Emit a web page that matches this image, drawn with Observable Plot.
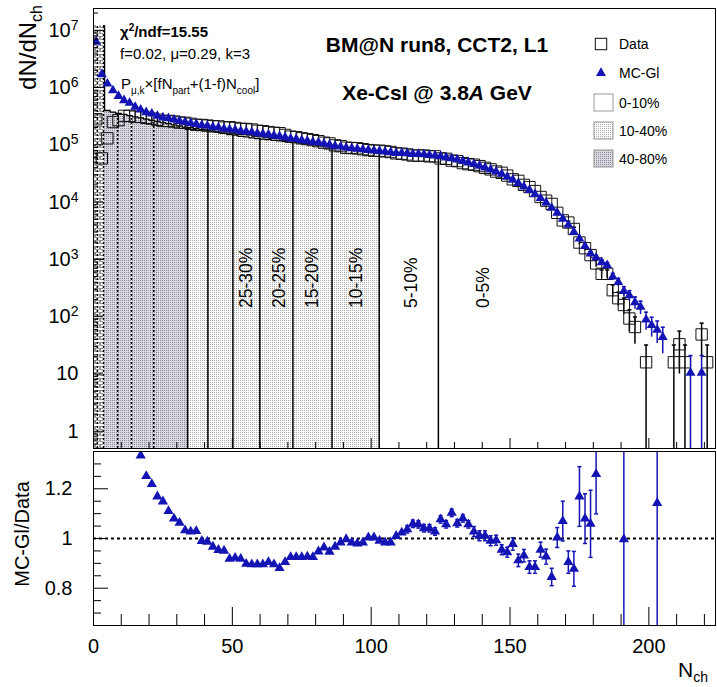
<!DOCTYPE html>
<html><head><meta charset="utf-8">
<script src="https://cdn.jsdelivr.net/npm/d3@7"></script>
<script src="https://cdn.jsdelivr.net/npm/@observablehq/plot@0.6"></script>
<style>
body{margin:0;background:#fff;}
#wrap{position:relative;width:717px;height:687px;overflow:hidden;background:#fff;}
#wrap svg{position:absolute;left:0;overflow:visible;}
</style></head><body><div id="wrap"></div>
<script>
// ---------------- data ----------------
const nch = [1,3,5,7,9,11,13,15,17,19,21,23,25,27,29,31,33,35,37,39,41,43,45,47,49,51,53,55,57,59,61,63,65,67,69,71,73,75,77,79,81,83,85,87,89,91,93,95,97,99,101,103,105,107,109,111,113,115,117,119,121,123,125,127,129,131,133,135,137,139,141,143,145,147,149,151,153,155,157,159,161,163,165,167,169,171,173,175,177,179,181,183,185,187,189,191,193,195,197,199,201,203,205,207,209,211,213,215,217,219,221,223];
const mcGl = [6.3e6,1.7e6,1.17e6,8.9e5,7.1e5,6.0e5,5.4e5,4.6e5,
 4.1e5,3.7e5,3.5e5,3.2e5,3.0e5,2.9e5,2.75e5,2.6e5,2.5e5,
 2.4e5,2.3e5,2.2e5,2.14e5,2.04e5,2.0e5,1.9e5,1.86e5,
 1.82e5,1.74e5,1.70e5,1.66e5,1.58e5,1.55e5,1.51e5,1.45e5,1.41e5,1.35e5,
 1.29e5,1.26e5,1.20e5,1.17e5,1.12e5,1.10e5,1.05e5,1.0e5,9.5e4,9.3e4,
 8.9e4,8.7e4,8.5e4,8.3e4,8.1e4,7.9e4,7.8e4,7.6e4,7.4e4,7.2e4,
 7.2e4,7.1e4,6.9e4,6.9e4,6.8e4,6.6e4,6.5e4,6.3e4,6.0e4,5.8e4,
 5.5e4,5.2e4,4.9e4,4.6e4,4.3e4,4.0e4,3.7e4,3.4e4,3.1e4,2.75e4,
 2.45e4,2.14e4,1.86e4,1.62e4,1.38e4,1.17e4,9.8e3,7.9e3,6.5e3,5.1e3,
 4.0e3,3.0e3,2.3e3,1.7e3,1.26e3,1.07e3,890,790,500,400,
 280,235,178,148,89,71,59,44,null,null,
 null,null,10.5,null,10.5,null,null];
const dataVals = [2.8e5,5.8e4,1.3e5,2.5e5,2.7e5,3.2e5,3.2e5,3.1e5,
 3.07e5,2.96e5,2.87e5,2.74e5,2.61e5,2.61e5,2.55e5,2.45e5,2.42e5,
 2.33e5,2.23e5,2.22e5,2.17e5,2.11e5,2.10e5,2.0e5,2.03e5,
 1.97e5,1.90e5,1.89e5,1.85e5,1.76e5,1.73e5,1.67e5,1.62e5,1.60e5,1.49e5,
 1.39e5,1.36e5,1.30e5,1.26e5,1.21e5,1.16e5,1.09e5,1.06e5,9.8e4,9.5e4,
 8.9e4,8.8e4,8.7e4,8.4e4,8.1e4,7.9e4,7.9e4,7.7e4,7.5e4,7.1e4,
 7.0e4,6.8e4,6.5e4,6.5e4,6.5e4,6.3e4,6.3e4,5.8e4,5.7e4,5.3e4,
 5.2e4,4.8e4,4.6e4,4.5e4,4.25e4,3.96e4,3.73e4,3.42e4,3.25e4,2.91e4,
 2.5e4,2.35e4,2.0e4,1.83e4,1.56e4,1.23e4,1.06e4,9.3e3,6.5e3,4.8e3,
 4.4e3,3.4e3,1.97e3,1.57e3,1.19e3,850,560,560,290,210,
 160,93,66,null,16,null,null,null,null,16,
 33,16,null,null,49,16,null];
const dataErrN = [171,173,175,177,179,181,183,185,187,189,191,193,195,199,209,211,213,219,221];
const dataErrV = [267,235,179,159,139,117,95,95,69,58,51,39,33,16,16,23,16,28,16];
const mcErrN = [171,173,175,177,179,181,183,185,187,189,191,193,195,197,199,201,203,205,215,219];
const mcErrV = [205,177,155,134,115,106,97,91,72,65,54,50,43,39,31,27,25,21.5,10.5,10.5];
// centrality-class histogram (fill top), bins N = 1..125
const classTop = [1.2e7,1.2e7,3.98e5,3.72e5,3.55e5,3.39e5,3.24e5,3.09e5,
 2.95e5,2.82e5,2.69e5,2.57e5,2.45e5,2.34e5,2.24e5,2.14e5,2.04e5,
 2.0e5,1.91e5,1.86e5,1.82e5,1.74e5,1.66e5,1.58e5,1.51e5,
 1.48e5,1.41e5,1.38e5,1.32e5,1.29e5,1.26e5,1.23e5,1.20e5,1.17e5,1.15e5,
 1.12e5,1.10e5,1.07e5,1.05e5,1.02e5,1.0e5,9.8e4,9.3e4,9.1e4,8.7e4,
 8.5e4,8.3e4,8.1e4,7.9e4,7.6e4,7.4e4,7.2e4,7.1e4,7.1e4,6.9e4,
 6.9e4,6.8e4,6.8e4,6.6e4,6.6e4,6.5e4,6.5e4,6.3e4];
const solidEdges = [33.9,41.2,50.2,59.9,71.8,85.9,102.9,124.2];
const dottedEdges = [1.4,3.6,8.7,13.7,21.7];
const centText = ["25-30%","20-25%","15-20%","10-15%","5-10%","0-5%"];
const centN = [55.1,67.0,79.0,94.8,114.4,140.5];
const classRanges = [[0,3.6],[3.6,33.9],[33.9,102.9]];
const classNames = ["80-100%","40-80%","10-40%"];
// ratio panel
const ratioN = [17,19,21,23,25,27,29,31,33,35,37,39,41,43,45,47,49,51,53,55,57,59,61,63,65,67,69,71,73,75,77,79,81,83,85,87,89,91,93,95,97,99,101,103,105,107,109,111,113,115,117,119,121,123,125,127,129,131,133,135,137,139,141,143,145,147,149,151,153,155,157,159,161,163,165,167,169,171,173,175,177,179,181,191,203];
const ratioV = [1.334,1.251,1.219,1.169,1.149,1.110,1.080,1.063,1.033,1.028,1.030,0.990,0.987,0.967,0.954,0.951,
 0.918,0.922,0.918,0.898,0.896,0.896,0.896,0.905,0.896,0.881,0.905,0.925,0.925,0.925,0.927,0.925,
 0.948,0.964,0.947,0.967,0.984,0.997,0.984,0.980,0.984,1.004,1.004,0.991,0.984,0.984,1.010,1.024,
 1.037,1.059,1.057,1.041,1.041,1.028,1.077,1.057,1.103,1.061,1.081,1.057,
 1.028,1.011,1.011,0.991,0.993,0.955,0.945,
 0.978,0.912,0.931,0.885,0.885,
 0.955,0.927,0.845,1.004,1.070,0.905,0.878,1.169,1.080,1.059,1.259,
 0.997,1.143];
const ratioE = [0.004,0.004,0.004,0.004,0.004,0.004,0.004,0.004,0.004,0.004,0.004,0.004,0.004,0.004,0.004,0.004,
 0.005,0.005,0.005,0.005,0.005,0.005,0.005,0.005,0.005,0.005,0.005,0.005,0.005,0.005,0.005,0.005,
 0.007,0.007,0.007,0.007,0.007,0.007,0.007,0.007,0.007,0.007,0.007,0.007,0.007,0.007,0.007,0.007,
 0.015,0.015,0.015,0.015,0.015,0.015,0.015,0.015,0.015,0.015,0.015,0.015,
 0.02,0.02,0.02,0.02,0.02,0.02,0.02,
 0.025,0.025,0.025,0.025,0.025,
 0.03,0.03,0.035,0.04,0.08,0.045,0.07,0.12,0.10,0.135,0.16,
 1.0,1.0];
// axis ticks
const xMajor = [0,50,100,150,200];
const yMajor = [1,10,100,1e3,1e4,1e5,1e6,1e7];
const rMajor = [0.8,1,1.2];

// ---------------- drawing ----------------
const blue = "#1414b4";
const font = "'Liberation Sans', Arial, Helvetica, sans-serif";
const xDomain = [0,224];
const yDomain = [0.5,2.4e7];
const rDomain = [0.65,1.35];
const xMinor = d3.range(10,224,10).filter(v => v % 50 !== 0);
const yMinor = [];
for (let k = -1; k <= 7; k++) for (let m = 2; m <= 9; m++) { const v = m * Math.pow(10,k); if (v > yDomain[0] && v < yDomain[1]) yMinor.push(v); }
const rMinor = d3.range(13,28).filter(i => i % 4 !== 0).map(i => i * 0.05);

const pts = nch.map((n,i) => ({n, mc: mcGl[i], data: dataVals[i]}));
const mcPts = pts.filter(d => d.mc != null);
const dataPts = pts.filter(d => d.data != null);
const dErr = dataErrN.map((n,i) => { const v = dataVals[nch.indexOf(n)]; return {n, lo: Math.max(v - dataErrV[i], yDomain[0]), hi: v + dataErrV[i]}; });
const mErr = mcErrN.map((n,i) => { const v = mcGl[nch.indexOf(n)]; return {n, lo: Math.max(v - mcErrV[i], yDomain[0]), hi: v + mcErrV[i]}; });
const rPts = ratioN.map((n,i) => ({n, r: ratioV[i], lo: ratioV[i] - ratioE[i], hi: ratioV[i] + ratioE[i], e: ratioE[i]}));
const rCaps = rPts.filter(d => d.e >= 0.015);

function topAt(x) { return classTop[Math.min(classTop.length - 1, Math.floor(x / 2))]; }
function rectsFor([lo,hi]) {
  const out = [];
  classTop.forEach((v,i) => { const n = nch[i]; const a = Math.max(n - 1, lo), b = Math.min(n + 1, hi); if (b > a) out.push({x1: a, x2: b, v}); });
  return out;
}
const outline = [];
classTop.forEach((v,i) => { const n = nch[i]; const a = Math.max(n - 1, 3.6), b = Math.min(n + 1, 102.9); if (b > a) { outline.push({x: a, v}); outline.push({x: b, v}); } });
const patterns = ["url(#pGrid)","url(#pDark)","url(#pLight)"];
const cap = {draw(ctx, size) { const w = Math.sqrt(size) / 2; ctx.moveTo(-w, 0); ctx.lineTo(w, 0); }};
const style = {fontFamily: font, fontSize: "20px", color: "black", background: "transparent", overflow: "visible"};
const blank = () => "";

const topPlot = Plot.plot({
  width: 717, height: 449, marginTop: 8, marginBottom: 1, marginLeft: 93, marginRight: 2,
  x: {domain: xDomain}, y: {type: "log", domain: yDomain}, style,
  marks: [
    ...classRanges.map((r,k) => Plot.rect(rectsFor(r), {x1: "x1", x2: "x2", y1: () => yDomain[0], y2: "v", fill: patterns[k], clip: true})),
    Plot.line(outline, {x: "x", y: "v", stroke: "black", strokeWidth: 1.3}),
    Plot.ruleX(solidEdges, {x: d => d, y1: () => yDomain[0], y2: d => topAt(d), stroke: "black", strokeWidth: 1.5}),
    Plot.ruleX(dottedEdges, {x: d => d, y1: () => yDomain[0], y2: d => topAt(d), stroke: "black", strokeWidth: 1.5, strokeDasharray: "2,2"}),
    Plot.text(centText.map((t,i) => ({t, n: centN[i]})), {x: "n", y: () => 142, text: "t", rotate: -90, textAnchor: "start", lineAnchor: "middle", fontSize: 17.5, fill: "black"}),
    Plot.ruleX(dErr, {x: "n", y1: "lo", y2: "hi", stroke: "black", strokeWidth: 1.5, clip: true}),
    Plot.dot(dErr, {x: "n", y: "hi", symbol: cap, r: 2.3, fill: "none", stroke: "black", strokeWidth: 1.5, clip: true}),
    Plot.dot(dataPts, {x: "n", y: "data", symbol: "square", r: 6.4, fill: "none", stroke: "#111", strokeWidth: 1, clip: true}),
    Plot.ruleX(mErr, {x: "n", y1: "lo", y2: "hi", stroke: blue, strokeWidth: 1.5, clip: true}),
    Plot.dot(mErr, {x: "n", y: "hi", symbol: cap, r: 2.3, fill: "none", stroke: blue, strokeWidth: 1.5, clip: true}),
    Plot.dot(mcPts, {x: "n", y: "mc", symbol: "triangle", r: 3.7, fill: blue, clip: true}),
    Plot.frame({stroke: "black"}),
    Plot.axisX({anchor: "bottom", ticks: xMajor, tickSize: -10, tickFormat: blank, label: null}),
    Plot.axisX({anchor: "bottom", ticks: xMinor, tickSize: -6, tickFormat: blank, label: null}),
    Plot.axisY({anchor: "left", ticks: yMajor, tickSize: -10, tickFormat: blank, label: null}),
    Plot.axisY({anchor: "left", ticks: yMinor, tickSize: -5, tickFormat: blank, label: null}),
    Plot.axisY({anchor: "left", ticks: yMajor, tickSize: 0, tickPadding: 15, label: null,
      tickFormat: d => d >= 100 ? "10^" + Math.round(Math.log10(d)) : String(d)})
  ]
});

const botPlot = Plot.plot({
  width: 717, height: 238, marginTop: 2, marginBottom: 62, marginLeft: 93, marginRight: 2,
  x: {domain: xDomain}, y: {domain: rDomain}, style,
  marks: [
    Plot.ruleY([1], {stroke: "black", strokeWidth: 1.8, strokeDasharray: "3,3"}),
    Plot.ruleX(rPts, {x: "n", y1: "lo", y2: "hi", stroke: blue, strokeWidth: 1.5, clip: true}),
    Plot.dot(rCaps, {x: "n", y: "hi", symbol: cap, r: 2.3, fill: "none", stroke: blue, strokeWidth: 1.5, clip: true}),
    Plot.dot(rCaps, {x: "n", y: "lo", symbol: cap, r: 2.3, fill: "none", stroke: blue, strokeWidth: 1.5, clip: true}),
    Plot.dot(rPts, {x: "n", y: "r", symbol: "triangle", r: 3.8, fill: blue, clip: true}),
    Plot.frame({stroke: "black"}),
    Plot.axisX({anchor: "bottom", ticks: xMajor, tickSize: -18, tickFormat: blank, label: null}),
    Plot.axisX({anchor: "bottom", ticks: xMinor, tickSize: -11, tickFormat: blank, label: null}),
    Plot.axisX({anchor: "bottom", ticks: xMajor, tickSize: 0, tickPadding: 13, tickFormat: d => String(d), label: null}),
    Plot.axisY({anchor: "left", ticks: rMajor, tickSize: -15, tickFormat: blank, label: null}),
    Plot.axisY({anchor: "left", ticks: rMinor, tickSize: -8, tickFormat: blank, label: null}),
    Plot.axisY({anchor: "left", ticks: rMajor, tickSize: 0, tickPadding: 21, tickFormat: d => String(d), label: null})
  ]
});

const wrap = document.getElementById("wrap");
topPlot.style.top = "0px";
botPlot.style.top = "449px";
wrap.appendChild(topPlot);
wrap.appendChild(botPlot);

// patterns for the centrality fills
d3.select(topPlot).insert("defs", ":first-child").html(`
<pattern id="pLight" width="2" height="2" patternUnits="userSpaceOnUse"><rect width="2" height="2" fill="#ffffff"/><rect width="1" height="1" fill="#a8a8a8"/></pattern>
<pattern id="pDark" width="2" height="2" patternUnits="userSpaceOnUse"><rect width="2" height="2" fill="#d9d9e0"/><rect width="1" height="1" fill="#84849a"/></pattern>
<pattern id="pGrid" width="5" height="6" patternUnits="userSpaceOnUse"><rect width="5" height="6" fill="#ffffff"/><rect x="0.5" y="0.5" width="4" height="3" fill="none" stroke="#666" stroke-width="0.7"/></pattern>`);

// superscripts on log tick labels
d3.select(topPlot).selectAll("text").each(function () {
  const t = this.textContent;
  if (t.includes("^")) {
    const [b, e] = t.split("^");
    const s = d3.select(this); s.text(null);
    s.append("tspan").text(b);
    s.append("tspan").attr("dy", "-0.5em").attr("font-size", "14px").text(e);
  }
});

function addText(svg, x, y, parts, o = {}) {
  const t = d3.select(svg).append("text").attr("x", x).attr("y", y)
    .attr("font-family", font).attr("font-size", o.size || 15).attr("fill", "black")
    .attr("text-anchor", o.anchor || "start");
  if (o.weight) t.attr("font-weight", o.weight);
  if (o.rotate) t.attr("transform", `rotate(${o.rotate},${x},${y})`);
  let cur = 0;
  for (const p of parts) {
    const s = t.append("tspan").text(p.t);
    const sh = p.shift || 0;
    if (sh !== cur) { s.attr("dy", sh - cur); cur = sh; }
    if (p.size) s.attr("font-size", p.size);
    if (p.style) s.attr("font-style", p.style);
  }
  return t;
}

// axis titles
addText(topPlot, 36, 5, [{t: "dN/dN"}, {t: "ch", size: 16, shift: 6}], {size: 24, anchor: "end", rotate: -90});
addText(botPlot, 29, 85, [{t: "MC-Gl/Data"}], {size: 20, anchor: "middle", rotate: -90});
addText(botPlot, 708, 228, [{t: "N"}, {t: "ch", size: 14, shift: 5}], {size: 21, anchor: "end"});

// fit info
addText(topPlot, 120, 37, [{t: "χ"}, {t: "2", size: 10, shift: -6}, {t: "/ndf=15.55", shift: 0}], {size: 15, weight: "bold"});
addText(topPlot, 120, 58.5, [{t: "f=0.02, μ=0.29, k=3"}], {size: 15});
addText(topPlot, 121, 88.5, [{t: "P"}, {t: "μ,k", size: 10, shift: 5}, {t: "×[fN", shift: 0}, {t: "part", size: 10, shift: 5},
  {t: "+(1-f)N", shift: 0}, {t: "cool", size: 10, shift: 5}, {t: "]", shift: 0}], {size: 15});

// header
addText(topPlot, 437, 51.5, [{t: "BM@N run8, CCT2, L1"}], {size: 21, weight: "bold", anchor: "middle"});
addText(topPlot, 437, 99.5, [{t: "Xe-CsI @ 3.8"}, {t: "A", style: "italic"}, {t: " GeV"}], {size: 21, weight: "bold", anchor: "middle"});

// legend
const lg = d3.select(topPlot).append("g");
lg.append("rect").attr("x", 595.3).attr("y", 38.3).attr("width", 11.4).attr("height", 11.4).attr("fill", "none").attr("stroke", "#111");
lg.append("path").attr("d", d3.symbol(d3.symbolTriangle, Math.PI * 3.7 * 3.7)()).attr("transform", "translate(601,73)").attr("fill", blue);
const sw = [["#ffffff", "0-10%"], ["url(#pLight)", classNames[2]], ["url(#pDark)", classNames[1]]];
sw.forEach(([f, name], i) => {
  lg.append("rect").attr("x", 594).attr("y", 94 + 28 * i).attr("width", 19).attr("height", 17).attr("fill", f).attr("stroke", "#999");
  addText(topPlot, 619, 107.5 + 28 * i, [{t: name}], {size: 14});
});
addText(topPlot, 619, 49, [{t: "Data"}], {size: 14});
addText(topPlot, 619, 78, [{t: "MC-Gl"}], {size: 14});
</script>
</body></html>
